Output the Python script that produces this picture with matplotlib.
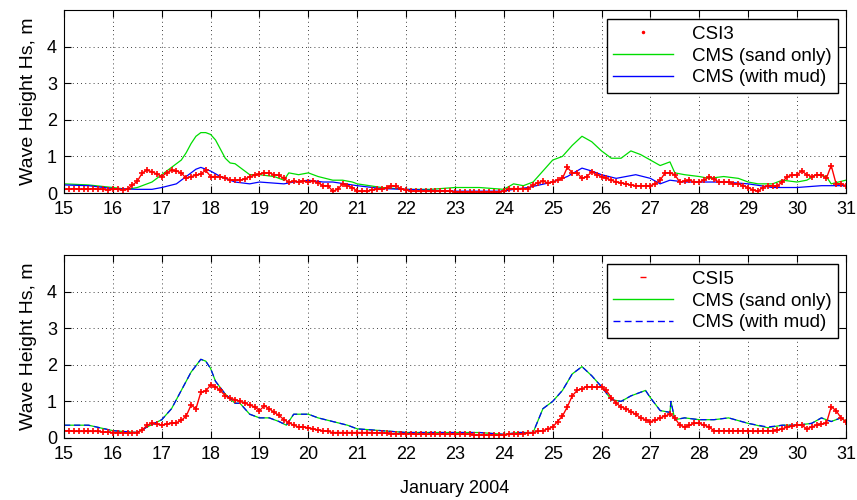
import numpy as np
import matplotlib.pyplot as plt
from matplotlib.lines import Line2D

plt.rcParams['font.family'] = ['Liberation Sans', 'DejaVu Sans']

# measured data, every 0.1 day from Jan 15 to Jan 31
t_obs = np.round(np.arange(15.0, 31.001, 0.1), 2)
csi3 = [0.10, 0.10, 0.12, 0.10, 0.10, 0.10, 0.12, 0.10, 0.10, 0.08,
        0.10, 0.10, 0.08, 0.10, 0.22, 0.32, 0.55, 0.62, 0.58, 0.52,
        0.45, 0.55, 0.62, 0.60, 0.55, 0.40, 0.45, 0.48, 0.52, 0.62,
        0.45, 0.45, 0.45, 0.42, 0.35, 0.35, 0.35, 0.38, 0.45, 0.48,
        0.52, 0.55, 0.55, 0.50, 0.48, 0.40, 0.30, 0.32, 0.30, 0.32,
        0.30, 0.32, 0.28, 0.20, 0.20, 0.05, 0.10, 0.25, 0.20, 0.15,
        0.05, 0.05, 0.05, 0.08, 0.10, 0.10, 0.15, 0.20, 0.18, 0.12,
        0.08, 0.05, 0.05, 0.05, 0.05, 0.05, 0.05, 0.05, 0.05, 0.05,
        0.03, 0.03, 0.03, 0.03, 0.03, 0.03, 0.03, 0.03, 0.03, 0.03,
        0.05, 0.12, 0.12, 0.12, 0.12, 0.12, 0.22, 0.28, 0.32, 0.28,
        0.30, 0.35, 0.40, 0.70, 0.55, 0.55, 0.40, 0.45, 0.58, 0.50,
        0.45, 0.40, 0.35, 0.30, 0.28, 0.25, 0.22, 0.20, 0.20, 0.20,
        0.20, 0.25, 0.35, 0.55, 0.55, 0.50, 0.30, 0.32, 0.35, 0.30,
        0.30, 0.35, 0.45, 0.38, 0.30, 0.30, 0.30, 0.25, 0.25, 0.20,
        0.15, 0.08, 0.05, 0.15, 0.20, 0.20, 0.20, 0.30, 0.45, 0.48,
        0.50, 0.60, 0.50, 0.45, 0.50, 0.50, 0.40, 0.75, 0.25, 0.25,
        0.20]
csi5 = [0.20, 0.20, 0.18, 0.18, 0.18, 0.18, 0.18, 0.18, 0.16, 0.16,
        0.15, 0.15, 0.15, 0.13, 0.15, 0.15, 0.22, 0.35, 0.40, 0.38,
        0.35, 0.38, 0.40, 0.42, 0.48, 0.60, 0.90, 0.80, 1.25, 1.28,
        1.45, 1.40, 1.30, 1.15, 1.08, 1.05, 1.00, 0.95, 0.90, 0.85,
        0.75, 0.88, 0.80, 0.70, 0.62, 0.50, 0.42, 0.35, 0.30, 0.30,
        0.28, 0.25, 0.22, 0.20, 0.18, 0.15, 0.15, 0.15, 0.15, 0.15,
        0.15, 0.15, 0.15, 0.15, 0.14, 0.14, 0.13, 0.12, 0.12, 0.12,
        0.12, 0.12, 0.10, 0.10, 0.10, 0.10, 0.10, 0.10, 0.10, 0.10,
        0.10, 0.10, 0.10, 0.10, 0.08, 0.08, 0.08, 0.08, 0.08, 0.08,
        0.08, 0.10, 0.10, 0.12, 0.12, 0.13, 0.15, 0.18, 0.20, 0.25,
        0.30, 0.45, 0.60, 0.85, 1.15, 1.30, 1.35, 1.40, 1.40, 1.38,
        1.40, 1.30, 1.10, 0.95, 0.85, 0.80, 0.72, 0.65, 0.55, 0.50,
        0.45, 0.48, 0.55, 0.60, 0.65, 0.55, 0.35, 0.30, 0.35, 0.40,
        0.40, 0.35, 0.30, 0.20, 0.20, 0.20, 0.20, 0.20, 0.20, 0.20,
        0.20, 0.18, 0.18, 0.20, 0.20, 0.20, 0.22, 0.25, 0.30, 0.32,
        0.35, 0.35, 0.25, 0.30, 0.35, 0.38, 0.40, 0.85, 0.75, 0.55,
        0.45]

# model results, top station (CSI3)
t_sand3 = [15.0, 15.5, 16.0, 16.3, 16.5, 16.8, 17.0, 17.2, 17.4, 17.5, 17.6, 17.7,
           17.8, 17.9, 18.0, 18.1, 18.2, 18.3, 18.4, 18.5, 18.6, 18.8, 19.0, 19.3,
           19.5, 19.6, 19.8, 20.0, 20.2, 20.5, 20.7, 20.9, 21.0, 21.5, 22.0, 22.5,
           23.0, 23.5, 24.0, 24.2, 24.4, 24.6, 24.8, 25.0, 25.2, 25.4, 25.6, 25.8,
           26.0, 26.2, 26.4, 26.6, 26.8, 27.0, 27.2, 27.4, 27.5, 27.7, 28.0, 28.2,
           28.5, 28.8, 29.0, 29.2, 29.5, 29.7, 30.0, 30.2, 30.4, 30.6, 30.7, 31.0]
sand3 = [0.25, 0.22, 0.15, 0.10, 0.15, 0.30, 0.50, 0.70, 0.90, 1.10, 1.35, 1.55,
         1.65, 1.65, 1.60, 1.45, 1.20, 0.95, 0.82, 0.80, 0.70, 0.50, 0.50, 0.45,
         0.35, 0.55, 0.50, 0.55, 0.45, 0.35, 0.35, 0.30, 0.25, 0.15, 0.10, 0.10,
         0.15, 0.15, 0.10, 0.25, 0.20, 0.30, 0.60, 0.90, 1.00, 1.30, 1.55, 1.40,
         1.15, 0.95, 0.95, 1.15, 1.05, 0.90, 0.75, 0.85, 0.55, 0.50, 0.45, 0.40,
         0.45, 0.40, 0.30, 0.25, 0.25, 0.35, 0.30, 0.35, 0.50, 0.45, 0.25, 0.35]
t_mud3 = [15.0, 15.5, 16.0, 16.5, 16.8, 17.0, 17.3, 17.5, 17.7, 17.8, 18.0, 18.2,
          18.5, 18.8, 19.0, 19.5, 19.7, 20.0, 20.3, 20.5, 21.0, 21.5, 22.0, 23.0,
          24.0, 24.2, 24.5, 25.0, 25.3, 25.6, 25.8, 26.0, 26.3, 26.5, 26.7, 27.0,
          27.2, 27.4, 27.7, 28.0, 28.5, 29.0, 29.5, 30.0, 30.5, 31.0]
mud3 = [0.22, 0.20, 0.12, 0.10, 0.10, 0.15, 0.25, 0.45, 0.65, 0.70, 0.60, 0.45,
        0.30, 0.25, 0.30, 0.25, 0.30, 0.35, 0.30, 0.30, 0.20, 0.12, 0.10, 0.05,
        0.05, 0.10, 0.15, 0.30, 0.45, 0.68, 0.60, 0.50, 0.40, 0.45, 0.50, 0.40,
        0.25, 0.35, 0.30, 0.30, 0.30, 0.25, 0.15, 0.15, 0.20, 0.20]

# model results, bottom station (CSI5)
t_mod5 = [15.0, 15.5, 16.0, 16.5, 16.7, 17.0, 17.2, 17.4, 17.6, 17.8, 17.9, 18.0,
          18.1, 18.3, 18.5, 18.6, 18.8, 19.0, 19.2, 19.4, 19.55, 19.7, 19.9, 20.0,
          20.2, 20.5, 20.8, 21.0, 21.5, 22.0, 22.5, 23.0, 23.5, 24.0, 24.3, 24.6,
          24.8, 25.0, 25.2, 25.4, 25.6, 25.8, 26.0, 26.2, 26.4, 26.6, 26.8, 26.9,
          27.0, 27.2, 27.4, 27.42, 27.5, 27.7, 28.0, 28.3, 28.6, 29.0, 29.4, 29.7,
          30.0, 30.3, 30.5, 30.7, 30.9, 31.0]
sand5 = [0.35, 0.35, 0.20, 0.15, 0.30, 0.50, 0.80, 1.30, 1.80, 2.15, 2.10, 1.90,
         1.55, 1.20, 0.95, 0.95, 0.65, 0.55, 0.55, 0.45, 0.35, 0.65, 0.65, 0.65,
         0.55, 0.45, 0.35, 0.25, 0.20, 0.15, 0.15, 0.15, 0.15, 0.10, 0.15, 0.15,
         0.80, 1.00, 1.30, 1.75, 1.95, 1.70, 1.40, 1.05, 1.00, 1.15, 1.25, 1.30,
         1.10, 0.75, 0.70, 1.00, 0.50, 0.55, 0.50, 0.50, 0.55, 0.40, 0.28, 0.35,
         0.35, 0.40, 0.55, 0.45, 0.55, 0.45]
mud5 = [0.35, 0.35, 0.20, 0.15, 0.30, 0.50, 0.80, 1.30, 1.80, 2.15, 2.10, 1.90,
        1.55, 1.20, 0.95, 0.95, 0.65, 0.55, 0.55, 0.45, 0.35, 0.65, 0.65, 0.65,
        0.55, 0.45, 0.35, 0.25, 0.20, 0.15, 0.15, 0.15, 0.15, 0.10, 0.15, 0.15,
        0.80, 1.00, 1.30, 1.75, 1.95, 1.70, 1.40, 1.05, 1.00, 1.15, 1.25, 1.30,
        1.10, 0.75, 0.70, 1.00, 0.50, 0.55, 0.50, 0.50, 0.55, 0.40, 0.30, 0.35,
        0.35, 0.40, 0.55, 0.45, 0.55, 0.45]

days = list(range(15, 32))

fig = plt.figure(figsize=(8.57, 5.0), dpi=100)
ax1 = fig.add_axes([0.0747, 0.614, 0.9123, 0.366])
ax2 = fig.add_axes([0.0747, 0.124, 0.9123, 0.366])


def style(ax):
    ax.set_xlim(15, 31)
    ax.set_ylim(0, 5)
    ax.set_xticks(days)
    ax.set_yticks([0, 1, 2, 3, 4])
    ax.tick_params(direction='in', top=True, right=True, labelsize=13, length=5)
    ax.tick_params(axis='x', pad=6)
    ax.tick_params(axis='y', pad=5)
    ax.grid(True, linestyle=(0, (1, 4)), color='black', linewidth=0.6)
    ax.set_ylabel('Wave Height Hs, m', fontsize=14, labelpad=7)
    for s in ax.spines.values():
        s.set_linewidth(0.8)


leg_kw = dict(loc='upper right', bbox_to_anchor=(0.99, 0.95), fontsize=13.5,
              fancybox=False, framealpha=1, edgecolor='black', borderaxespad=0,
              handlelength=3.2, handletextpad=1.0, labelspacing=0.25, borderpad=0.35)

# top panel
ax1.plot(t_sand3, sand3, color='#00dd00', lw=0.9)
ax1.plot(t_mud3, mud3, color='#0000ff', lw=0.9)
ax1.plot(t_obs, csi3, color='red', lw=1.0, ls='none', marker='+', ms=5, mew=1.2)
ax1.plot(t_obs, csi3, color='red', lw=1.0)
style(ax1)
h1 = [Line2D([], [], color='red', ls='none', marker='.', ms=3),
      Line2D([], [], color='#00dd00', lw=1.0),
      Line2D([], [], color='#0000ff', lw=1.0)]
ax1.legend(h1, ['CSI3', 'CMS (sand only)', 'CMS (with mud)'], **leg_kw)

# bottom panel
ax2.plot(t_mod5, sand5, color='#00dd00', lw=0.9)
ax2.plot(t_mod5, mud5, color='#0000ff', lw=0.9, ls=(0, (5, 3)))
ax2.plot(t_obs, csi5, color='red', lw=1.0, ls='none', marker='+', ms=5, mew=1.2)
ax2.plot(t_obs, csi5, color='red', lw=1.0)
style(ax2)
h2 = [Line2D([], [], color='red', ls='none', marker='_', ms=4),
      Line2D([], [], color='#00dd00', lw=1.0),
      Line2D([], [], color='#0000ff', lw=1.0, ls=(0, (5, 3)))]
ax2.legend(h2, ['CSI5', 'CMS (sand only)', 'CMS (with mud)'], **leg_kw)
ax2.set_xlabel('January 2004', fontsize=13, labelpad=12)

fig.savefig('out.png', dpi=100)
